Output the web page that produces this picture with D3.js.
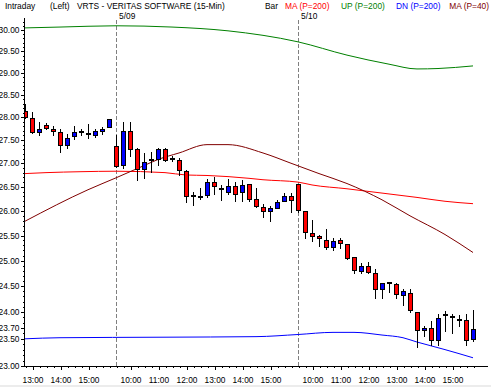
<!DOCTYPE html>
<html><head><meta charset="utf-8">
<script src="https://cdn.jsdelivr.net/npm/d3@7"></script>
<style>
html,body{margin:0;padding:0;background:#fff;overflow:hidden}
svg{display:block}
text{font-family:"Liberation Sans",Arial,sans-serif;}
</style></head><body>
<svg id="c" width="491" height="387"></svg>
<script>
// ---- data ----
const barTimes = [
"5/08 12:45","5/08 13:00","5/08 13:15","5/08 13:30","5/08 13:45","5/08 14:00","5/08 14:15","5/08 14:30","5/08 14:45","5/08 15:00","5/08 15:15","5/08 15:30","5/08 15:45",
"5/09 9:30","5/09 9:45","5/09 10:00","5/09 10:15","5/09 10:30","5/09 10:45","5/09 11:00","5/09 11:15","5/09 11:30","5/09 11:45","5/09 12:00","5/09 12:15","5/09 12:30","5/09 12:45","5/09 13:00","5/09 13:15","5/09 13:30","5/09 13:45","5/09 14:00","5/09 14:15","5/09 14:30","5/09 14:45","5/09 15:00","5/09 15:15","5/09 15:30","5/09 15:45",
"5/10 9:30","5/10 9:45","5/10 10:00","5/10 10:15","5/10 10:30","5/10 10:45","5/10 11:00","5/10 11:15","5/10 11:30","5/10 11:45","5/10 12:00","5/10 12:15","5/10 12:30","5/10 12:45","5/10 13:00","5/10 13:15","5/10 13:30","5/10 13:45","5/10 14:00","5/10 14:15","5/10 14:30","5/10 14:45","5/10 15:00","5/10 15:15","5/10 15:30","5/10 15:45"
];
const open = [28.13,27.98,27.68,27.82,27.75,27.68,27.40,27.58,27.68,27.64,27.62,27.70,27.79,
27.36,26.97,27.69,27.31,26.88,27.06,27.08,27.30,27.10,27.06,26.83,26.31,26.29,26.32,26.61,26.46,26.39,26.51,26.40,26.56,26.24,26.08,26.00,26.06,26.20,26.30,
26.55,25.99,25.55,25.50,25.40,25.26,25.40,25.32,25.08,24.79,24.90,24.75,24.44,24.56,24.54,24.33,24.37,24.01,23.66,23.70,23.47,23.94,23.90,23.85,23.85,23.50];
const high = [28.29,28.11,27.89,27.88,27.80,27.73,27.64,27.80,27.73,27.85,27.73,27.79,27.97,
27.62,27.90,27.90,27.32,27.21,27.24,27.33,27.33,27.16,27.11,26.85,26.39,26.48,26.67,26.70,26.54,26.67,26.61,26.65,26.56,26.47,26.15,26.11,26.23,26.38,26.38,
26.57,25.99,25.82,25.52,25.63,25.44,25.45,25.32,25.08,24.95,24.97,24.83,24.56,24.56,24.56,24.44,24.44,24.01,23.73,23.84,23.96,24.03,23.96,23.94,23.96,24.04];
const low = [27.99,27.65,27.62,27.73,27.62,27.24,27.33,27.53,27.62,27.55,27.57,27.64,27.79,
26.92,26.89,27.15,26.65,26.69,26.81,26.97,27.04,27.04,26.74,26.18,26.13,26.25,26.29,26.36,26.23,26.36,26.20,26.20,26.20,26.08,25.87,25.79,26.06,26.20,25.97,
25.97,25.45,25.38,25.28,25.22,25.20,25.25,25.03,24.75,24.75,24.75,24.28,24.28,24.38,24.28,24.13,24.01,23.34,23.55,23.39,23.39,23.65,23.60,23.73,23.39,23.46];
const close = [28.00,27.67,27.73,27.77,27.70,27.40,27.55,27.68,27.68,27.64,27.69,27.75,27.96,
26.95,27.69,27.31,26.88,27.03,27.06,27.30,27.06,27.10,26.85,26.31,26.31,26.29,26.61,26.51,26.46,26.51,26.36,26.54,26.24,26.11,26.00,26.06,26.19,26.30,26.23,
26.02,25.57,25.50,25.45,25.26,25.38,25.35,25.06,24.81,24.90,24.77,24.44,24.56,24.56,24.35,24.41,24.04,23.66,23.70,23.47,23.89,23.94,23.90,23.85,23.47,23.68];

// indicator lines (bar index, value)
const ma200Idx = [0,3,8,13,20,23,26,32,34,39,41,46,51,56,60,64];
const ma200    = [26.78,26.80,26.82,26.83,26.80,26.75,26.74,26.68,26.65,26.60,26.54,26.46,26.37,26.28,26.20,26.15];
const upIdx = [0,5,13,21,29,39,46,52,56,59,64];
const up    = [30.05,30.07,30.10,30.07,29.98,29.72,29.41,29.20,29.09,29.10,29.16];
const dnIdx = [0,5,20,33,39,44,47,51,54,56,58,60,64];
const dn    = [23.50,23.52,23.53,23.54,23.58,23.62,23.62,23.57,23.52,23.44,23.37,23.30,23.15];
const ma40Idx = [0,9,13,17,19,22,26,29,34,38,42,46,51,55,60,64];
const ma40    = [25.79,26.44,26.69,26.95,27.08,27.22,27.40,27.40,27.22,27.00,26.78,26.57,26.23,25.90,25.52,25.16];

const yTickValues = [30,29.5,29,28.5,28,27.5,27,26.5,26,25.5,25,24.5,24,23.7,23.5,23];

const titleItems = [
  {text:"Intraday", x:5, color:"#000", anchor:"start"},
  {text:"(Left)", x:50, color:"#000", anchor:"start"},
  {text:"VRTS - VERITAS SOFTWARE  (15-Min)", x:77, color:"#000", anchor:"start"},
  {text:"Bar", x:265, color:"#000", anchor:"start"},
  {text:"MA (P=200)", x:285, color:"#ff0000", anchor:"start"},
  {text:"UP (P=200)", x:341, color:"#008000", anchor:"start"},
  {text:"DN (P=200)", x:396, color:"#0000ff", anchor:"start"},
  {text:"MA (P=40)", x:489, color:"#800000", anchor:"end"}
];

// ---- drawing ----
const svg = d3.select("#c");
svg.append("rect").attr("x",0).attr("y",0).attr("width",491).attr("height",387).attr("fill","#fff");
svg.append("rect").attr("x",0).attr("y",385).attr("width",491).attr("height",2).attr("fill","#ececec");

const x = d3.scalePoint().domain(barTimes).range([25,473]);
const y = d3.scaleLog().domain([23,30]).range([366,30]);
const px = v => Math.round(v);

svg.append("defs").append("clipPath").attr("id","clip")
  .append("rect").attr("x",25).attr("y",0).attr("width",466).attr("height",366);

// separators
const sepBars = barTimes.filter(t=>t.endsWith(" 9:30"));
svg.append("g").selectAll("line").data(sepBars).join("line")
  .attr("x1",t=>px(x(t))+0.5).attr("x2",t=>px(x(t))+0.5)
  .attr("y1",20).attr("y2",366)
  .attr("stroke","#808080").attr("stroke-dasharray","4,2").attr("shape-rendering","crispEdges");

// title
const fs = "8.4px";
svg.append("g").selectAll("text").data(titleItems).join("text")
  .attr("x",d=>d.x).attr("y",9).attr("fill",d=>d.color).attr("text-anchor",d=>d.anchor)
  .style("font-size",fs).text(d=>d.text);
svg.append("g").selectAll("text").data(sepBars).join("text")
  .attr("x",t=>px(x(t))+3).attr("y",18.5).style("font-size",fs).text(t=>t.split(" ")[0]);

const plot = svg.append("g").attr("clip-path","url(#clip)");

function drawLine(idx, vals, color){
  const pts = idx.map((k,j)=>[x(barTimes[k]), y(vals[j])]);
  plot.append("path").attr("d", d3.line().curve(d3.curveMonotoneX)(pts))
    .attr("fill","none").attr("stroke",color).attr("stroke-width",1);
}
drawLine(upIdx, up, "#008000");
drawLine(dnIdx, dn, "#0000ff");
drawLine(ma200Idx, ma200, "#ff0000");
drawLine(ma40Idx, ma40, "#800000");

// candles
const candles = barTimes.map((t,i)=>({t,o:open[i],h:high[i],l:low[i],c:close[i]}));
const cg = plot.append("g").attr("shape-rendering","crispEdges");
cg.selectAll("line").data(candles).join("line")
  .attr("x1",d=>px(x(d.t))+0.5).attr("x2",d=>px(x(d.t))+0.5)
  .attr("y1",d=>px(y(d.h))).attr("y2",d=>px(y(d.l))+1)
  .attr("stroke","#000");
cg.selectAll("rect").data(candles).join("rect")
  .each(function(d){
    const cx = px(x(d.t));
    const s = d3.select(this);
    if (Math.abs(d.o-d.c) < 0.005){
      s.attr("x",cx-2).attr("y",px(y(d.o))-1).attr("width",5).attr("height",2).attr("fill","#000");
    } else {
      const y0 = px(y(Math.max(d.o,d.c))), y1 = px(y(Math.min(d.o,d.c)));
      s.attr("x",cx-2+0.5).attr("y",y0+0.5).attr("width",4).attr("height",Math.max(1,y1-y0))
       .attr("fill", d.c < d.o ? "#ff0000" : "#0000ff").attr("stroke","#000");
    }
  });

// y axis
const minorY = d3.range(230,303).map(v=>v/10);
const yMinor = svg.append("g").attr("transform","translate(24.5,0)")
  .call(d3.axisLeft(y).tickValues(minorY).tickSize(2).tickFormat(""));
yMinor.select(".domain").remove();
const yAxis = svg.append("g").attr("transform","translate(24.5,0)")
  .call(d3.axisLeft(y).tickValues(yTickValues).tickSize(4).tickPadding(1).tickFormat(d3.format(".2f")));
yAxis.select(".domain").remove();
yAxis.selectAll("text").style("font-size","8.4px").attr("fill","#000");
svg.append("line").attr("x1",24.5).attr("x2",24.5).attr("y1",18).attr("y2",366.5).attr("stroke","#000");

// x axis
const hourBars = barTimes.filter(t=>t.endsWith(":00"));
const xMinor = svg.append("g").attr("transform","translate(0.5,366)")
  .call(d3.axisBottom(x).tickValues(barTimes).tickSize(2).tickFormat(""));
xMinor.select(".domain").remove();
const xAxis = svg.append("g").attr("transform","translate(0.5,366)")
  .call(d3.axisBottom(x).tickValues(hourBars).tickSize(4).tickPadding(7).tickFormat(t=>t.split(" ")[1]));
xAxis.select(".domain").remove();
xAxis.selectAll("text").style("font-size","8.4px").attr("fill","#000");
svg.append("line").attr("x1",24).attr("x2",488).attr("y1",366.5).attr("y2",366.5).attr("stroke","#000");
svg.selectAll(".tick line").attr("shape-rendering","crispEdges");
</script>
</body></html>
